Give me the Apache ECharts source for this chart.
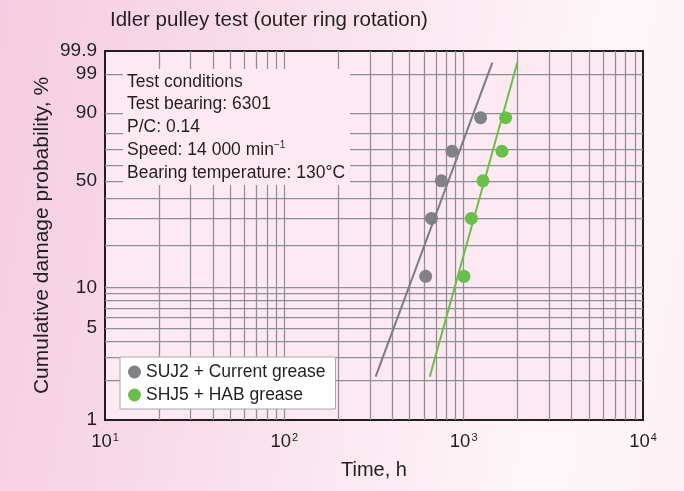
<!DOCTYPE html>
<html>
<head>
<meta charset="utf-8">
<script src="https://cdn.jsdelivr.net/npm/echarts@6/dist/echarts.min.js"></script>
<style>
  html, body { margin: 0; padding: 0; }
  body {
    width: 684px; height: 491px; overflow: hidden;
    background: linear-gradient(100deg, #f5cde0 0%, #f9dde9 35%, #fcecf3 62%, #fdf6f9 80%, #fcf1f6 100%);
  }
  #chart { width: 684px; height: 491px; }
</style>
</head>
<body>
<div id="chart"></div>
<script>
// ---- data ----
const titleText = 'Idler pulley test (outer ring rotation)';
const xAxisName = 'Time, h';
const yAxisName = 'Cumulative damage probability, %';

const seriesNames = ['SUJ2 + Current grease', 'SHJ5 + HAB grease'];

// points: time (h) and cumulative damage probability (%)
const suj2Time = [614, 661, 751, 861, 1243];
const suj2Prob = [12, 30, 50, 69, 88];
const shj5Time = [1004, 1104, 1281, 1635, 1714];
const shj5Prob = [12, 30, 50, 69, 88];

// fitted lines (end points)
const suj2LineTime = [323, 1445];
const suj2LineProb = [2.14, 99.64];
const shj5LineTime = [647, 1992];
const shj5LineProb = [2.14, 99.64];

// axis ticks
const yLabelValues = [1, 5, 10, 50, 90, 99, 99.9];
const yGridValues = [2, 3, 4, 5, 6, 7, 8, 9, 10, 20, 30, 40, 50, 60, 70, 80, 90, 99];
const xLabelExp = [1, 2, 3, 4];
const xGridValues = [20, 30, 40, 50, 60, 70, 80, 90, 100, 200, 300, 400, 500, 600, 700, 800, 900,
                     1000, 2000, 3000, 4000, 5000, 6000, 7000, 8000, 9000];

const noteLines = ['Test conditions', 'Test bearing: 6301', 'P/C: 0.14',
                   'Speed: 14 000 min', 'Bearing temperature: 130°C'];

// ---- transforms ----
const W = p => Math.log(-Math.log(1 - p / 100));
const L = t => Math.log10(t);
const invW = v => 100 * (1 - Math.exp(-Math.exp(v)));

const pairs = (ts, ps) => ts.map((t, i) => [L(t), W(ps[i])]);

const FONT = '"Liberation Sans", Arial, Helvetica, sans-serif';
const TXT = '#231f20';
const GRID_COL = '#8f9194';
const GRAY = '#808285';
const GREEN = '#6abf4b';
const PLOT_BG = '#fde9f1';

const chart = echarts.init(document.getElementById('chart'), null, { renderer: 'canvas' });

const noteGraphics = [{
  type: 'rect', z: 10,
  shape: { x: 123, y: 69, width: 227, height: 116 },
  style: { fill: PLOT_BG }
}];
noteLines.forEach((s, i) => {
  const isSpeed = i === 3;
  noteGraphics.push({
    type: 'text', z: 11,
    x: 127, y: 81.7 + i * 22.75,
    style: {
      text: isSpeed ? '{n|' + s + '}{s|−1}' : s,
      font: '17.5px ' + FONT,
      fill: TXT,
      verticalAlign: 'middle',
      rich: isSpeed ? {
        n: { fontSize: 17.5, fontFamily: FONT, fill: TXT },
        s: { fontSize: 10, fontFamily: FONT, fill: TXT, padding: [0, 0, 9, 0] }
      } : undefined
    }
  });
});

const option = {
  backgroundColor: 'transparent',
  animation: false,
  textStyle: { fontFamily: FONT },
  title: {
    text: titleText, left: 105, top: 5,
    textStyle: { fontSize: 20.5, fontWeight: 'normal', color: TXT, fontFamily: FONT }
  },
  grid: {
    left: 105, right: 41, top: 51, bottom: 71,
    show: true, backgroundColor: PLOT_BG, borderColor: TXT, borderWidth: 2
  },
  legend: {
    data: seriesNames,
    orient: 'vertical',
    left: 120, top: 357,
    padding: [6, 10, 5, 8],
    itemGap: 5,
    itemWidth: 13, itemHeight: 13,
    icon: 'circle',
    backgroundColor: '#ffffff',
    borderColor: '#a7a9ac', borderWidth: 1,
    textStyle: { fontSize: 17.5, color: TXT, fontFamily: FONT }
  },
  xAxis: {
    type: 'value',
    min: 1, max: 4,
    name: xAxisName, nameLocation: 'middle', nameGap: 40,
    nameMoveOverlap: false,
    nameTextStyle: { fontSize: 20, color: TXT, fontFamily: FONT },
    axisLine: { show: false },
    axisTick: { show: false, customValues: xGridValues.map(L) },
    splitLine: { show: true, lineStyle: { color: GRID_COL, width: 1.25 } },
    axisLabel: {
      customValues: xLabelExp,
      margin: 12,
      formatter: v => '{b|10}{s|' + Math.round(v) + '}',
      rich: {
        b: { fontSize: 18.5, color: TXT, fontFamily: FONT },
        s: { fontSize: 11, color: TXT, fontFamily: FONT, padding: [0, 0, 9, 1] }
      }
    }
  },
  yAxis: {
    type: 'value',
    min: W(1), max: W(99.9),
    name: yAxisName, nameLocation: 'middle', nameGap: 52,
    nameMoveOverlap: false,
    nameTextStyle: { fontSize: 21, color: TXT, fontFamily: FONT },
    axisLine: { show: false },
    axisTick: { show: false, customValues: yGridValues.map(W) },
    splitLine: { show: true, lineStyle: { color: GRID_COL, width: 1.25 } },
    axisLabel: {
      customValues: yLabelValues.map(W),
      margin: 8,
      fontSize: 19, color: TXT, fontFamily: FONT,
      formatter: v => String(parseFloat(invW(v).toFixed(1)))
    }
  },
  series: [
    {
      name: 'SUJ2 fit', type: 'line', data: pairs(suj2LineTime, suj2LineProb),
      showSymbol: false, symbol: 'none', silent: true,
      lineStyle: { color: '#7c7d80', width: 2 }
    },
    {
      name: 'SHJ5 fit', type: 'line', data: pairs(shj5LineTime, shj5LineProb),
      showSymbol: false, symbol: 'none', silent: true,
      lineStyle: { color: GREEN, width: 2 }
    },
    {
      name: seriesNames[0], type: 'scatter', data: pairs(suj2Time, suj2Prob),
      symbol: 'circle', symbolSize: 13,
      itemStyle: { color: GRAY, opacity: 1 }
    },
    {
      name: seriesNames[1], type: 'scatter', data: pairs(shj5Time, shj5Prob),
      symbol: 'circle', symbolSize: 13,
      itemStyle: { color: GREEN, opacity: 1 }
    }
  ],
  graphic: noteGraphics
};

chart.setOption(option);
</script>
</body>
</html>
